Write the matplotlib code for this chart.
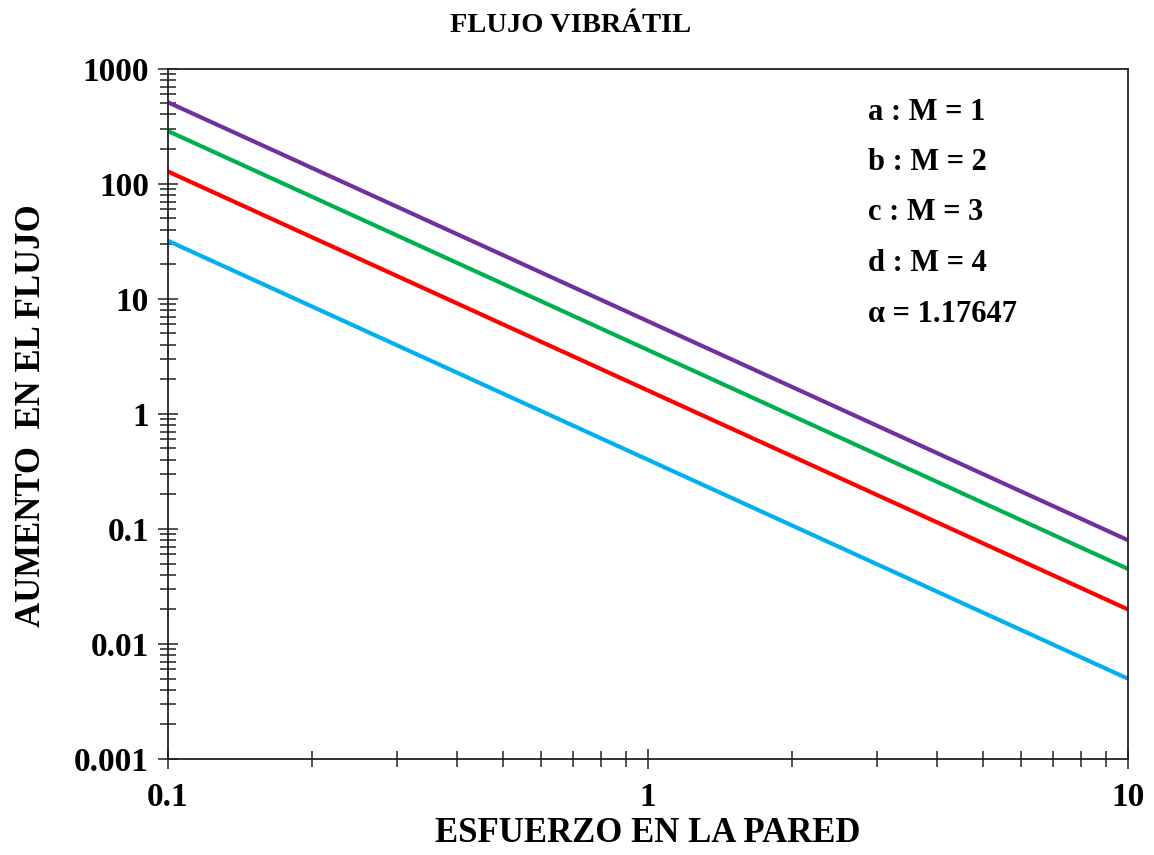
import matplotlib
matplotlib.use("Agg")
import matplotlib.pyplot as plt
from matplotlib.ticker import LogLocator, FixedLocator, FixedFormatter, NullFormatter

plt.rcParams['font.family'] = ['Liberation Serif', 'DejaVu Serif']
plt.rcParams['font.weight'] = 'bold'

# Wall stress (x) and flow enhancement (y) for each curve
x_vals = [0.1, 1, 10]
y_a = [32, 0.4, 0.005]     # M = 1
y_b = [128, 1.6, 0.02]     # M = 2
y_c = [288, 3.6, 0.045]    # M = 3
y_d = [512, 6.4, 0.08]     # M = 4

series = [
    (y_a, '#00B0F0'),
    (y_b, '#FF0000'),
    (y_c, '#00B050'),
    (y_d, '#7030A0'),
]

legend_lines = ['a : M = 1', 'b : M = 2', 'c : M = 3', 'd : M = 4', 'α = 1.17647']

x_ticks = [0.1, 1, 10]
x_ticklabels = ['0.1', '1', '10']
y_ticks = [0.001, 0.01, 0.1, 1, 10, 100, 1000]
y_ticklabels = ['0.001', '0.01', '0.1', '1', '10', '100', '1000']

fig = plt.figure(figsize=(11.54, 8.55), dpi=100)
W, H = 1154, 855
ax = fig.add_axes([167.7 / W, 1 - 759 / H, (1127.7 - 167.7) / W, (759 - 68.7) / H])

for ys, col in series:
    ax.plot(x_vals, ys, color=col, lw=3.0, solid_capstyle='butt')

ax.set_xscale('log')
ax.set_yscale('log')
ax.set_xlim(0.1, 10)
ax.set_ylim(0.001, 1000)

ax.xaxis.set_major_locator(FixedLocator(x_ticks))
ax.xaxis.set_major_formatter(FixedFormatter(x_ticklabels))
ax.xaxis.set_minor_locator(LogLocator(base=10, subs=range(2, 10), numticks=20))
ax.xaxis.set_minor_formatter(NullFormatter())
ax.yaxis.set_major_locator(FixedLocator(y_ticks))
ax.yaxis.set_major_formatter(FixedFormatter(y_ticklabels))
ax.yaxis.set_minor_locator(LogLocator(base=10, subs=range(2, 10), numticks=20))
ax.yaxis.set_minor_formatter(NullFormatter())

for s in ax.spines.values():
    s.set_color('#222222')
    s.set_linewidth(1.3)

ax.tick_params(axis='both', which='major', direction='inout', length=15, width=1.1,
               color='#222222', labelsize=24)
ax.tick_params(axis='both', which='minor', direction='inout', length=11, width=1.1,
               color='#222222')
ax.tick_params(axis='y', which='major', pad=6)
ax.tick_params(axis='x', which='major', pad=9)
for lab in ax.get_xticklabels() + ax.get_yticklabels():
    lab.set_fontweight('bold')

ax.set_xlabel('ESFUERZO EN LA PARED', fontsize=25, fontweight='bold')
ax.xaxis.label.set_va('center')
ax.xaxis.set_label_coords(0.5, (759 - 833) / (759 - 68.7))
ax.set_ylabel('AUMENTO  EN EL FLUJO', fontsize=25, fontweight='bold')
ax.yaxis.label.set_va('center')
ax.yaxis.set_label_coords((32 - 167.7) / (1127.7 - 167.7), (759 - 416) / (759 - 68.7))

fig.text(571 / W, 1 - 26 / H, 'FLUJO VIBRÁTIL', ha='center', va='center',
         fontsize=20.5, fontweight='bold')

for i, txt in enumerate(legend_lines):
    fig.text(868 / W, 1 - (112 + 50.5 * i) / H, txt, ha='left', va='center',
             fontsize=22, fontweight='bold')

fig.savefig('out.png', dpi=100)
